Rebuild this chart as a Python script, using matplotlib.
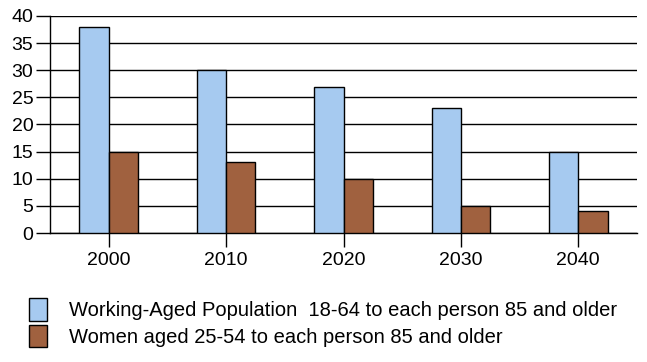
import matplotlib
matplotlib.use("Agg")
from matplotlib import pyplot as plt
import numpy as np

years = ["2000", "2010", "2020", "2030", "2040"]
working_aged = [38, 30, 27, 23, 15]
women_25_54 = [15, 13, 10, 5, 4]
labels = ["Working-Aged Population  18-64 to each person 85 and older",
          "Women aged 25-54 to each person 85 and older"]

plt.rcParams['font.family'] = ['Liberation Sans', 'DejaVu Sans']

fig = plt.figure(figsize=(6.47, 3.62), dpi=100)
ax = fig.add_axes([50/647, 1 - 233/362, 587/647, 217/362])

x = np.arange(len(years))
w = 0.25
b1 = ax.bar(x - w/2, working_aged, w, color='#a6caf0', edgecolor='black', linewidth=1, zorder=3)
b2 = ax.bar(x + w/2, women_25_54, w, color='#a0613f', edgecolor='black', linewidth=1, zorder=3)

ax.set_xlim(-0.5, 4.5)
ax.set_ylim(0, 40)
ax.set_yticks(range(0, 41, 5))
ax.set_xticks(x)
ax.set_xticklabels(years)
ax.yaxis.grid(True, color='black', linewidth=1, zorder=0)
ax.tick_params(axis='y', length=10, width=1, labelsize=14, pad=2)
ax.tick_params(axis='x', length=10, width=1, labelsize=14, pad=4)
for s in ['top', 'right']:
    ax.spines[s].set_visible(False)
ax.spines['left'].set_linewidth(1)
ax.spines['bottom'].set_linewidth(1)

fig.legend([b1, b2], labels, loc='upper left', bbox_to_anchor=(21/647, 1 - 290/362),
           frameon=False, fontsize=14.5, handlelength=0.9, handleheight=1.35,
           handletextpad=1.1, labelspacing=0.2, borderaxespad=0)

fig.savefig("out.png", dpi=100)
